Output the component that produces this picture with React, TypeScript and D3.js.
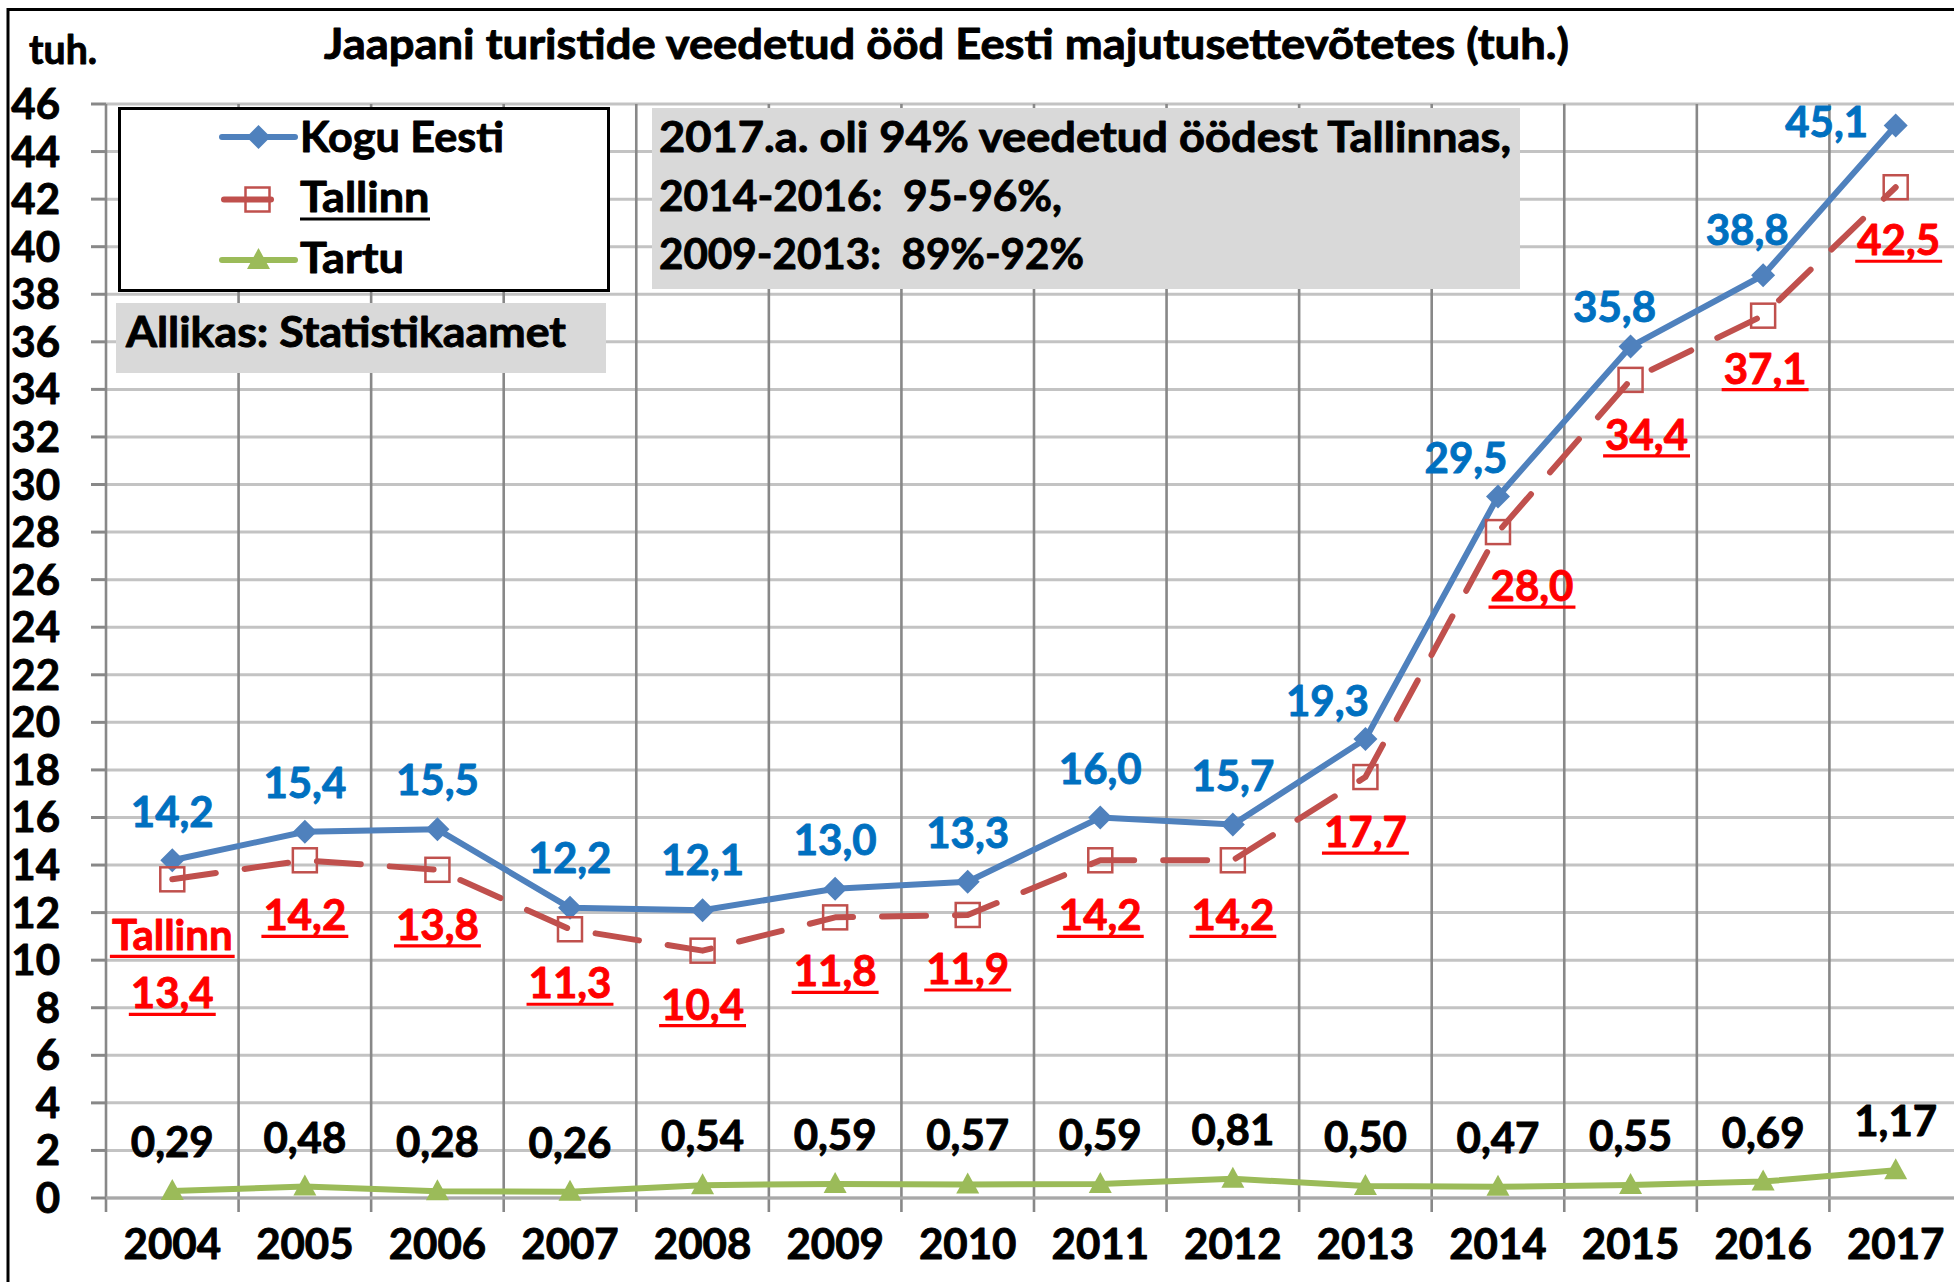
import React, { useEffect, useRef } from 'react';
import * as d3 from 'd3';

const years = ['2004','2005','2006','2007','2008','2009','2010','2011','2012','2013','2014','2015','2016','2017'];
const koguEesti = [14.2, 15.4, 15.5, 12.2, 12.1, 13.0, 13.3, 16.0, 15.7, 19.3, 29.5, 35.8, 38.8, 45.1];
const tallinn = [13.4, 14.2, 13.8, 11.3, 10.4, 11.8, 11.9, 14.2, 14.2, 17.7, 28.0, 34.4, 37.1, 42.5];
const tartu = [0.29, 0.48, 0.28, 0.26, 0.54, 0.59, 0.57, 0.59, 0.81, 0.50, 0.47, 0.55, 0.69, 1.17];
const yTicks = d3.range(0, 47, 2);

// label offsets (px) from each point
const koguLabelDx = [0,0,0,0,0,0,0,0,0,-38,-32,-16,-16,-69];
const koguLabelDy = [-33,-34,-34,-35,-35,-34,-34,-33,-34,-23,-23,-25,-30,12];
const tallinnLabelDx = [0,0,0,0,0,0,0,0,0,0,34,16,2,3];
const tallinnLabelDy = [129,70,70,69,69,69,69,70,70,70,69,70,68,68];
const tartuLabelDy = -34;

const title = 'Jaapani turistide veedetud ööd Eesti majutusettevõtetes (tuh.)';
const noteLines = ['2017.a. oli 94% veedetud öödest Tallinnas,', '2014-2016:  95-96%,', '2009-2013:  89%-92%'];
const source = 'Allikas: Statistikaamet';
const legendNames = ['Kogu Eesti', 'Tallinn', 'Tartu'];

const FONT = "Lato, 'Open Sans', 'DejaVu Sans', sans-serif";
const BLUE_LINE = '#4F81BD';
const RED_LINE = '#C0504D';
const GREEN_LINE = '#9BBB59';
const BLUE_TXT = '#0070C0';
const RED_TXT = '#FF0000';

const fmt1 = (v: number) => d3.format('.1f')(v).replace('.', ',');
const fmt2 = (v: number) => d3.format('.2f')(v).replace('.', ',');

export default function App() {
  const ref = useRef<SVGSVGElement | null>(null);

  useEffect(() => {
    const svg = d3.select(ref.current);
    svg.selectAll('*').remove();
    const W = 1954, H = 1282;
    const x0 = 106, step = 132.57;
    const x = d3.scaleBand<string>().domain(years).range([x0, x0 + step * years.length]).padding(0);
    const cx = (i: number) => (x(years[i]) as number) + x.bandwidth() / 2;
    const y = d3.scaleLinear().domain([0, 46]).range([1198, 104]);

    svg.append('rect').attr('width', W).attr('height', H).attr('fill', '#fff');
    svg.append('rect').attr('x', 8).attr('y', 9.5).attr('width', 2100).attr('height', 1400)
      .attr('fill', 'none').attr('stroke', '#000').attr('stroke-width', 3);

    // bold text, slightly thickened with a stroke of its own colour
    const txt = (g: any, color: string = '#000') => g.attr('font-family', FONT).attr('font-weight', 700)
      .attr('fill', color).attr('stroke', color).attr('stroke-width', 0.9).attr('stroke-linejoin', 'round');

    // title
    txt(svg.append('text')).attr('x', 324).attr('y', 59).attr('font-size', 42)
      .attr('textLength', 1245).attr('lengthAdjust', 'spacingAndGlyphs').text(title);
    txt(svg.append('text')).attr('x', 29).attr('y', 64).attr('font-size', 40)
      .attr('textLength', 68).attr('lengthAdjust', 'spacingAndGlyphs').text('tuh.');

    // horizontal gridlines
    const grid = svg.append('g');
    grid.selectAll('line.h').data(yTicks).enter().append('line')
      .attr('x1', x0).attr('x2', W + 20)
      .attr('y1', (d: number) => y(d)).attr('y2', (d: number) => y(d))
      .attr('stroke', '#c3c3c3').attr('stroke-width', 3);
    // y tick marks
    grid.selectAll('line.t').data(yTicks).enter().append('line')
      .attr('x1', 91).attr('x2', x0)
      .attr('y1', (d: number) => y(d)).attr('y2', (d: number) => y(d))
      .attr('stroke', '#888').attr('stroke-width', 3);
    // vertical category gridlines (boundaries)
    const bounds = d3.range(0, years.length + 1).map(k => x0 + k * step);
    grid.selectAll('line.v').data(bounds).enter().append('line')
      .attr('x1', (d: number) => d).attr('x2', (d: number) => d)
      .attr('y1', y(46)).attr('y2', y(0) + 14)
      .attr('stroke', '#888').attr('stroke-width', 2.6);
    // x axis
    grid.append('line').attr('x1', x0).attr('x2', W + 20).attr('y1', y(0)).attr('y2', y(0))
      .attr('stroke', '#a8a8a8').attr('stroke-width', 3);

    // y labels
    svg.append('g').selectAll('text').data(yTicks).enter().append('text')
      .call((s: any) => txt(s)).attr('font-size', 42).attr('text-anchor', 'end')
      .attr('x', 60).attr('y', (d: number) => y(d) + 15).text((d: number) => String(d));

    // x labels
    svg.append('g').selectAll('text').data(years).enter().append('text')
      .call((s: any) => txt(s)).attr('font-size', 42).attr('text-anchor', 'middle')
      .attr('x', (_d: string, i: number) => cx(i)).attr('y', 1259).text((d: string) => d);

    // note box
    svg.append('rect').attr('x', 652).attr('y', 108).attr('width', 868).attr('height', 181).attr('fill', '#d9d9d9');
    const noteLens = [852, 403, 425];
    const noteY = [152, 211, 269];
    noteLines.forEach((t, i) => {
      txt(svg.append('text')).attr('x', 659).attr('y', noteY[i]).attr('font-size', 42)
        .style('white-space', 'pre')
        .attr('textLength', noteLens[i]).attr('lengthAdjust', 'spacingAndGlyphs').text(t);
    });

    // source box
    svg.append('rect').attr('x', 116).attr('y', 303).attr('width', 490).attr('height', 70).attr('fill', '#d9d9d9');
    txt(svg.append('text')).attr('x', 126).attr('y', 347).attr('font-size', 42)
      .attr('textLength', 440).attr('lengthAdjust', 'spacingAndGlyphs').text(source);

    // legend
    svg.append('rect').attr('x', 119.5).attr('y', 108.5).attr('width', 489).attr('height', 182)
      .attr('fill', '#fff').attr('stroke', '#000').attr('stroke-width', 3);
    const legY = [137, 199.5, 260];
    const legBase = [152, 212, 273];
    const legLens = [204, 129.5, 104];
    const diamond = 'M0,-12L12,0L0,12L-12,0Z';
    const tri = 'M0,-12L11.5,9L-11.5,9Z';
    // Kogu
    svg.append('line').attr('x1', 222).attr('x2', 295).attr('y1', legY[0]).attr('y2', legY[0])
      .attr('stroke', BLUE_LINE).attr('stroke-width', 6).attr('stroke-linecap', 'round');
    svg.append('path').attr('d', diamond).attr('transform', `translate(258.5,${legY[0]})`).attr('fill', BLUE_LINE);
    // Tallinn
    svg.append('line').attr('x1', 224).attr('x2', 271).attr('y1', legY[1]).attr('y2', legY[1])
      .attr('stroke', RED_LINE).attr('stroke-width', 6).attr('stroke-linecap', 'round');
    svg.append('rect').attr('x', 257.5 - 12).attr('y', legY[1] - 12).attr('width', 24).attr('height', 24)
      .attr('fill', 'none').attr('stroke', RED_LINE).attr('stroke-width', 2.5);
    // Tartu
    svg.append('line').attr('x1', 222).attr('x2', 295).attr('y1', legY[2]).attr('y2', legY[2])
      .attr('stroke', GREEN_LINE).attr('stroke-width', 6).attr('stroke-linecap', 'round');
    svg.append('path').attr('d', tri).attr('transform', `translate(258.5,${legY[2]})`).attr('fill', GREEN_LINE);
    legendNames.forEach((n, i) => {
      txt(svg.append('text')).attr('x', 300).attr('y', legBase[i]).attr('font-size', 42)
        .attr('textLength', legLens[i]).attr('lengthAdjust', 'spacingAndGlyphs').text(n);
    });
    svg.append('line').attr('x1', 300).attr('x2', 430).attr('y1', 219).attr('y2', 219)
      .attr('stroke', '#000').attr('stroke-width', 3);

    const line = d3.line<number>().x((_d, i) => cx(i)).y(d => y(d));

    // Kogu Eesti series
    svg.append('path').attr('d', line(koguEesti) as string).attr('fill', 'none')
      .attr('stroke', BLUE_LINE).attr('stroke-width', 6).attr('stroke-linejoin', 'round');
    svg.append('g').selectAll('path').data(koguEesti).enter().append('path')
      .attr('d', diamond).attr('fill', BLUE_LINE)
      .attr('transform', (d: number, i: number) => `translate(${cx(i)},${y(d)})`);

    // Tallinn series
    svg.append('path').attr('d', line(tallinn) as string).attr('fill', 'none')
      .attr('stroke', RED_LINE).attr('stroke-width', 6).attr('stroke-linejoin', 'round')
      .attr('stroke-linecap', 'round').attr('stroke-dasharray', '44 29');
    svg.append('g').selectAll('rect').data(tallinn).enter().append('rect')
      .attr('x', (_d: number, i: number) => cx(i) - 12).attr('y', (d: number) => y(d) - 12)
      .attr('width', 24).attr('height', 24).attr('fill', 'none')
      .attr('stroke', RED_LINE).attr('stroke-width', 2.5);

    // Tartu series
    svg.append('path').attr('d', line(tartu) as string).attr('fill', 'none')
      .attr('stroke', GREEN_LINE).attr('stroke-width', 6).attr('stroke-linejoin', 'round');
    svg.append('g').selectAll('path').data(tartu).enter().append('path')
      .attr('d', tri).attr('fill', GREEN_LINE)
      .attr('transform', (d: number, i: number) => `translate(${cx(i)},${y(d)})`);

    // Kogu labels
    svg.append('g').selectAll('text').data(koguEesti).enter().append('text')
      .call((s: any) => txt(s, BLUE_TXT)).attr('font-size', 42).attr('text-anchor', 'middle')
      .attr('x', (_d: number, i: number) => cx(i) + koguLabelDx[i])
      .attr('y', (d: number, i: number) => y(d) + koguLabelDy[i])
      .text((d: number) => fmt1(d));

    // Tallinn labels (underlined)
    const redG = svg.append('g');
    const addRed = (t: string, xx: number, yy: number) => {
      const el = txt(redG.append('text'), RED_TXT).attr('font-size', 42).attr('text-anchor', 'middle')
        .attr('x', xx).attr('y', yy).text(t);
      const w = (el.node() as SVGTextElement).getComputedTextLength();
      redG.append('line').attr('x1', xx - w / 2 - 2).attr('x2', xx + w / 2 + 2)
        .attr('y1', yy + 6).attr('y2', yy + 6).attr('stroke', RED_TXT).attr('stroke-width', 3.2);
    };
    tallinn.forEach((d, i) => {
      addRed(fmt1(d), cx(i) + tallinnLabelDx[i], y(d) + tallinnLabelDy[i]);
    });
    addRed('Tallinn', cx(0), y(tallinn[0]) + 71);

    // Tartu labels
    svg.append('g').selectAll('text').data(tartu).enter().append('text')
      .call((s: any) => txt(s)).attr('font-size', 42).attr('text-anchor', 'middle')
      .attr('x', (_d: number, i: number) => cx(i))
      .attr('y', (d: number) => y(d) + tartuLabelDy)
      .text((d: number) => fmt2(d));
  }, []);

  return (
    <svg ref={ref} width={1954} height={1282}
      style={{ position: 'absolute', left: 0, top: 0, display: 'block' }} />
  );
}
